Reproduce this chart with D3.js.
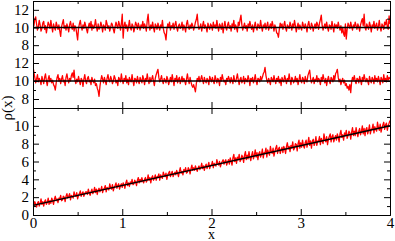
<!DOCTYPE html>
<html><head><meta charset="utf-8">
<script src="https://cdn.jsdelivr.net/npm/d3@7"></script>
<style>body{margin:0;background:#fff}svg{display:block}svg text{font-family:"Liberation Serif",serif !important;}</style>
</head><body><svg id="c" width="395" height="241"></svg>
<script>
const xStep = 0.01;
const xTicks = [0,1,2,3,4];
const xMinorTicks = [0.5,1.5,2.5,3.5];
const yTicksTop = [8,10,12];
const yMinorTop = [9,11];
const yTicksBottom = [0,2,4,6,8,10];
const yMinorBottom = [1,3,5,7,9,11];
const rhoTop = [
10.6,10.2,10.9,11.2,10.4,9.7,10.1,10.8,10.3,9.6,9.9,10.5,10.7,9.8,10.2,9.4,10.0,10.6,10.3,9.9,
10.8,10.1,9.5,10.4,10.0,9.7,10.6,10.2,9.8,10.3,9.6,9.0,10.1,10.5,10.9,9.9,10.2,9.7,10.4,10.0,
9.5,10.3,10.7,10.1,9.8,10.5,9.6,10.2,10.0,9.3,8.6,9.9,10.4,10.8,10.1,9.7,10.3,9.9,10.6,10.2,
9.8,9.4,10.1,10.5,10.0,10.7,9.7,10.3,9.9,10.2,10.9,10.1,9.6,10.4,9.8,10.0,10.6,10.2,9.5,10.3,
10.1,9.7,10.8,10.4,9.9,10.2,9.6,10.0,10.5,10.3,9.8,9.4,10.1,10.6,10.2,9.9,10.7,10.3,9.7,10.4,
11.5,8.8,10.2,10.6,9.9,10.3,9.6,10.1,10.8,10.0,9.7,10.4,10.2,9.5,10.0,10.6,10.3,9.8,10.5,10.1,
9.7,10.3,10.0,10.7,9.9,10.4,10.1,9.6,10.8,11.5,10.2,9.7,10.3,9.9,10.6,10.0,9.5,10.4,10.2,9.8,
10.5,10.1,9.7,10.3,10.0,10.8,9.9,9.4,9.2,8.6,9.8,10.4,10.1,10.6,9.7,10.2,10.0,10.5,9.8,10.3,
10.7,10.0,9.6,10.2,10.4,9.9,10.1,10.6,9.7,10.3,10.0,9.5,10.4,10.8,10.1,9.8,10.3,9.9,10.5,10.2,
9.7,10.1,10.6,10.9,11.5,10.3,9.8,10.0,10.4,9.6,10.2,10.7,9.9,10.3,10.0,9.5,10.5,10.1,9.8,10.4,
10.2,9.7,10.6,10.0,10.3,9.9,10.8,10.1,9.6,10.4,10.2,9.8,10.5,9.4,10.1,10.7,10.0,9.7,10.3,10.6,
9.9,10.2,9.6,10.4,10.1,10.8,9.8,10.3,10.0,9.5,10.6,10.2,10.9,11.4,10.3,9.7,10.1,10.5,9.9,10.2,
9.6,10.4,10.0,10.7,10.2,9.8,10.3,9.5,10.1,10.6,10.0,9.7,10.4,10.2,9.9,10.8,10.1,9.6,10.3,10.0,
10.5,9.8,10.2,10.6,9.7,10.1,10.4,9.9,10.7,10.2,9.6,10.3,10.0,9.4,9.3,8.9,9.8,10.5,10.1,10.4,
9.8,10.2,10.7,10.0,9.6,10.3,10.1,9.9,10.6,10.2,9.7,10.4,10.0,10.8,10.2,9.5,10.1,10.5,9.8,10.3,
10.0,9.7,10.6,10.2,9.9,10.4,10.1,9.5,10.3,10.7,10.0,9.8,10.5,10.2,9.6,10.1,10.4,9.9,10.6,10.3,
9.8,10.5,10.9,11.4,10.2,9.7,10.1,10.4,9.9,10.6,10.0,9.6,10.3,10.2,9.8,10.7,10.1,9.5,10.4,10.0,
10.3,9.9,10.6,10.1,9.7,10.2,9.4,10.0,9.3,9.0,10.4,8.7,9.8,10.5,10.2,9.9,10.6,10.1,9.7,10.3,
10.0,10.6,10.2,9.8,10.4,10.1,9.6,10.3,10.7,11.0,10.2,11.5,10.0,9.7,10.4,10.1,9.8,10.6,10.2,9.5,
10.3,10.0,10.7,9.9,10.2,10.5,9.7,10.1,10.8,10.0,9.6,10.4,10.2,9.8,10.6,10.3,10.9,10.1,9.8,11.3,
10.4];
const rhoMid = [
11.6,11.0,10.4,9.8,10.2,10.7,9.9,10.3,10.0,9.6,10.5,10.1,9.7,10.4,10.8,10.0,9.5,10.2,10.6,9.9,
10.3,9.8,10.1,9.6,9.4,9.0,9.8,10.4,10.7,10.0,10.3,9.7,10.2,10.6,9.9,10.1,9.5,10.4,10.8,10.2,
9.8,10.3,10.0,10.6,10.9,10.4,11.2,10.1,9.7,10.2,9.9,10.5,10.0,9.6,10.3,10.1,9.4,10.2,10.7,10.0,
9.7,10.3,10.5,9.9,10.1,9.6,10.4,10.0,9.8,10.2,9.5,9.7,9.2,8.9,8.3,9.4,10.1,10.6,10.2,9.8,
10.4,10.0,9.6,10.3,10.7,10.1,9.9,10.5,10.2,9.7,10.0,10.6,10.3,9.8,10.1,9.5,10.4,10.2,9.9,10.8,
10.1,9.7,10.3,10.0,10.6,9.8,10.2,9.6,10.4,10.1,9.9,10.7,10.0,9.5,10.3,10.2,9.8,10.5,10.0,9.7,
10.4,10.1,9.8,10.6,10.2,9.6,10.3,10.0,10.8,10.1,9.7,10.4,9.9,10.2,10.6,10.0,9.5,10.3,10.7,11.0,
11.3,10.4,9.9,10.2,10.6,10.0,9.7,10.3,10.1,9.8,10.5,10.2,9.6,10.0,10.4,9.9,10.7,10.1,9.5,10.3,
10.0,10.6,9.8,10.2,10.4,9.7,10.1,10.5,9.9,10.3,10.0,9.6,10.2,10.8,10.1,9.7,10.4,9.9,9.5,9.3,
9.6,9.2,8.8,9.7,10.3,10.0,10.5,9.9,10.2,10.6,10.1,9.7,10.4,10.0,9.8,10.3,10.1,9.6,10.5,10.2,
9.9,10.4,10.0,9.7,10.6,10.2,9.8,10.3,10.1,9.5,10.4,10.0,10.7,10.2,9.9,10.1,9.6,10.3,10.0,10.5,
10.2,9.8,10.4,10.1,9.7,10.6,10.0,9.9,10.3,10.8,10.1,9.6,10.2,10.4,9.8,10.0,10.5,9.7,10.3,10.1,
9.9,10.6,10.2,9.5,10.3,10.0,10.4,9.8,10.1,10.7,10.0,9.6,10.3,10.2,9.9,10.5,10.1,10.4,10.8,11.0,
11.5,10.6,10.1,9.8,10.3,10.0,9.6,10.4,10.2,9.9,10.6,10.1,9.7,10.3,10.0,10.5,9.8,10.2,9.5,10.4,
10.1,9.9,10.6,10.2,9.7,10.3,10.0,10.8,10.1,9.6,10.4,10.2,9.8,10.0,10.5,9.9,10.3,9.6,10.1,10.7,
10.0,9.8,10.4,10.2,9.7,10.5,10.1,9.9,10.6,10.9,11.2,10.3,9.8,10.1,10.4,9.7,10.2,10.0,10.6,9.9,
10.3,10.1,9.6,10.4,10.0,10.7,10.2,9.8,10.3,9.5,10.1,10.5,10.0,9.7,10.4,10.2,9.9,10.6,10.1,10.8,
11.0,11.3,10.4,9.9,10.2,9.6,10.0,10.3,9.8,10.1,9.5,9.7,9.2,9.4,9.0,9.6,8.7,9.9,10.4,10.1,
10.6,10.0,9.7,10.3,10.2,9.8,10.5,10.1,9.6,10.4,10.0,10.7,10.2,9.9,10.3,10.0,9.6,10.5,10.1,9.8,
10.4,10.2,9.7,10.6,10.0,10.3,9.9,10.5,10.1,9.6,10.4,10.2,9.8,10.7,10.0,10.3,9.9,10.6,10.1,10.4,
10.2];
const rhoBottom = [
1.3,1.0,1.5,1.2,0.9,1.3,1.5,1.0,1.3,1.8,1.2,1.5,1.0,1.5,1.7,1.2,1.4,1.9,1.2,1.6,
1.3,1.9,1.6,1.2,1.8,2.1,1.6,1.8,1.4,1.9,1.8,2.2,1.6,1.7,2.1,2.0,1.5,2.1,2.4,1.9,
2.1,2.4,1.7,2.2,2.1,1.9,2.6,2.2,2.1,2.5,1.8,2.2,2.4,2.7,2.1,2.4,2.6,2.1,2.4,2.6,
2.6,2.3,2.9,2.5,2.2,2.6,2.9,2.4,2.6,3.1,2.5,2.9,2.3,2.8,3.0,2.6,2.8,3.2,2.5,2.9,
3.0,3.3,2.6,3.1,3.0,2.8,3.5,3.1,2.9,3.4,2.7,3.1,3.3,3.6,3.0,3.3,3.5,2.9,3.3,3.5,
3.1,3.6,3.4,3.0,3.6,3.9,3.3,3.6,3.2,3.7,3.5,4.0,3.4,3.5,3.9,3.7,3.3,3.9,4.2,3.6,
4.0,3.7,4.2,3.8,3.6,4.0,4.2,3.7,3.9,4.5,3.9,4.2,3.6,4.2,4.4,3.9,4.1,4.5,3.9,4.3,
4.3,4.6,3.9,4.5,4.3,4.1,4.8,4.5,4.3,4.7,4.0,4.5,4.7,4.9,4.3,4.6,4.9,4.3,4.6,4.8,
4.5,5.0,4.7,4.3,4.9,5.3,4.7,4.9,4.5,5.1,4.9,5.3,4.7,4.8,5.3,5.1,4.6,5.2,5.6,5.0,
5.3,5.0,5.5,5.2,4.9,5.3,5.5,5.1,5.3,5.8,5.2,5.5,5.0,5.5,5.7,5.2,5.5,5.9,5.2,5.6,
5.6,6.0,5.3,5.8,5.6,5.5,6.2,5.8,5.6,6.0,5.4,5.8,6.0,6.2,5.7,6.0,6.2,5.6,5.9,6.2,
5.7,6.4,6.0,5.6,6.4,6.8,6.0,6.4,5.8,6.5,6.2,6.8,6.0,6.2,6.7,6.5,5.9,6.7,7.1,6.2,
6.7,6.3,7.1,6.5,6.1,6.7,7.1,6.3,6.7,7.3,6.5,7.0,6.2,6.9,7.1,6.5,6.8,7.4,6.4,7.0,
7.0,7.5,6.5,7.3,7.0,6.7,7.7,7.1,6.9,7.5,6.6,7.1,7.5,7.8,6.9,7.4,7.6,6.9,7.3,7.6,
7.0,7.7,7.4,6.9,7.7,8.1,7.4,7.7,7.1,7.8,7.5,8.2,7.3,7.5,8.0,7.9,7.2,8.0,8.4,7.5,
8.1,7.6,8.4,7.8,7.5,8.1,8.4,7.6,8.1,8.7,7.8,8.3,7.5,8.3,8.5,7.8,8.1,8.8,7.8,8.3,
8.3,8.8,7.9,8.6,8.3,8.0,9.1,8.5,8.2,8.8,7.9,8.5,8.8,9.1,8.2,8.8,9.0,8.2,8.6,8.9,
8.4,9.1,8.7,8.2,9.1,9.5,8.7,9.0,8.4,9.2,8.9,9.5,8.6,8.9,9.4,9.2,8.5,9.3,9.8,8.9,
9.4,8.9,9.8,9.2,8.8,9.4,9.7,9.0,9.4,10.0,9.1,9.7,8.9,9.6,9.8,9.1,9.5,10.1,9.1,9.6,
9.7,10.2,9.2,9.9,9.6,9.4,10.4,9.8,9.5,10.2,9.3,9.8,10.1,10.4,9.6,10.1,10.3,9.5,10.0,10.3,
10.6];
const fitX = [0,4];
const fitTop = [10,10];
const fitMid = [10,10];
const fitBottom = [1.08,10.0];

const FONT = "Liberation Serif";
const svg = d3.select("#c");
const L = 33, R = 390;
const x = d3.scaleLinear().domain([0,4]).range([L,R]);
const panels = [
  {data: rhoTop, fit: fitTop, dom:[7,13], top:1, bot:54, ticks:yTicksTop, minor:yMinorTop},
  {data: rhoMid, fit: fitMid, dom:[7,13], top:54, bot:108, ticks:yTicksTop, minor:yMinorTop},
  {data: rhoBottom, fit: fitBottom, dom:[0,12], top:108, bot:215, ticks:yTicksBottom, minor:yMinorBottom}
];
panels.forEach((p,pi)=>{
  const y = d3.scaleLinear().domain(p.dom).range([p.bot,p.top]);
  const g = svg.append("g");
  const cid = "clip"+pi;
  svg.append("clipPath").attr("id",cid).append("rect").attr("x",L).attr("y",p.top).attr("width",R-L).attr("height",p.bot-p.top);
  const line = d3.line().x((d,i)=>x(i*xStep)).y(d=>y(d));
  g.append("path").datum(p.data).attr("d",line).attr("fill","none").attr("stroke","#ff0000").attr("stroke-width",1.3).attr("stroke-linejoin","round").attr("clip-path","url(#"+cid+")");
  g.append("path").datum(p.fit).attr("d",d3.line().x((d,i)=>x(fitX[i])).y(d=>y(d))).attr("fill","none").attr("stroke","#000").attr("stroke-width",1.5);
  const axL = d3.axisLeft(y).tickValues(p.ticks).tickSizeInner(-6).tickSizeOuter(0).tickPadding(4).tickFormat(d3.format("d"));
  const axLm = d3.axisLeft(y).tickValues(p.minor).tickSizeInner(-3).tickSizeOuter(0).tickFormat("");
  const axR = d3.axisRight(y).tickValues(p.ticks).tickSizeInner(-6).tickSizeOuter(0).tickFormat("");
  const axRm = d3.axisRight(y).tickValues(p.minor).tickSizeInner(-3).tickSizeOuter(0).tickFormat("");
  const axT = d3.axisTop(x).tickValues(xTicks).tickSizeInner(-6).tickSizeOuter(0).tickFormat("");
  const axTm = d3.axisTop(x).tickValues(xMinorTicks).tickSizeInner(-3).tickSizeOuter(0).tickFormat("");
  const axB = d3.axisBottom(x).tickValues(xTicks).tickSizeInner(-6).tickSizeOuter(0).tickPadding(2).tickFormat(pi===2?d3.format("d"):"");
  const axBm = d3.axisBottom(x).tickValues(xMinorTicks).tickSizeInner(-3).tickSizeOuter(0).tickFormat("");
  const add=(ax,tr)=>{const a=g.append("g").attr("transform",tr).call(ax).attr("font-family",FONT).attr("font-size",15);
    a.selectAll("text").attr("fill","#000").style("font-family",FONT);
    a.selectAll(".domain").attr("stroke","#000"); a.selectAll("line").attr("stroke","#000"); return a;};
  add(axL,`translate(${L},0)`); add(axLm,`translate(${L},0)`);
  add(axR,`translate(${R},0)`); add(axRm,`translate(${R},0)`);
  add(axT,`translate(0,${p.top})`); add(axTm,`translate(0,${p.top})`);
  add(axB,`translate(0,${p.bot})`); add(axBm,`translate(0,${p.bot})`);
});
svg.append("text").attr("x",x(2)).attr("y",238.5).attr("text-anchor","middle").style("font-family",FONT).attr("font-size",14).text("x");
svg.append("text").attr("transform","translate(12,108) rotate(-90)").attr("text-anchor","middle").style("font-family",FONT).attr("font-size",15).text("ρ(x)");
</script></body></html>
